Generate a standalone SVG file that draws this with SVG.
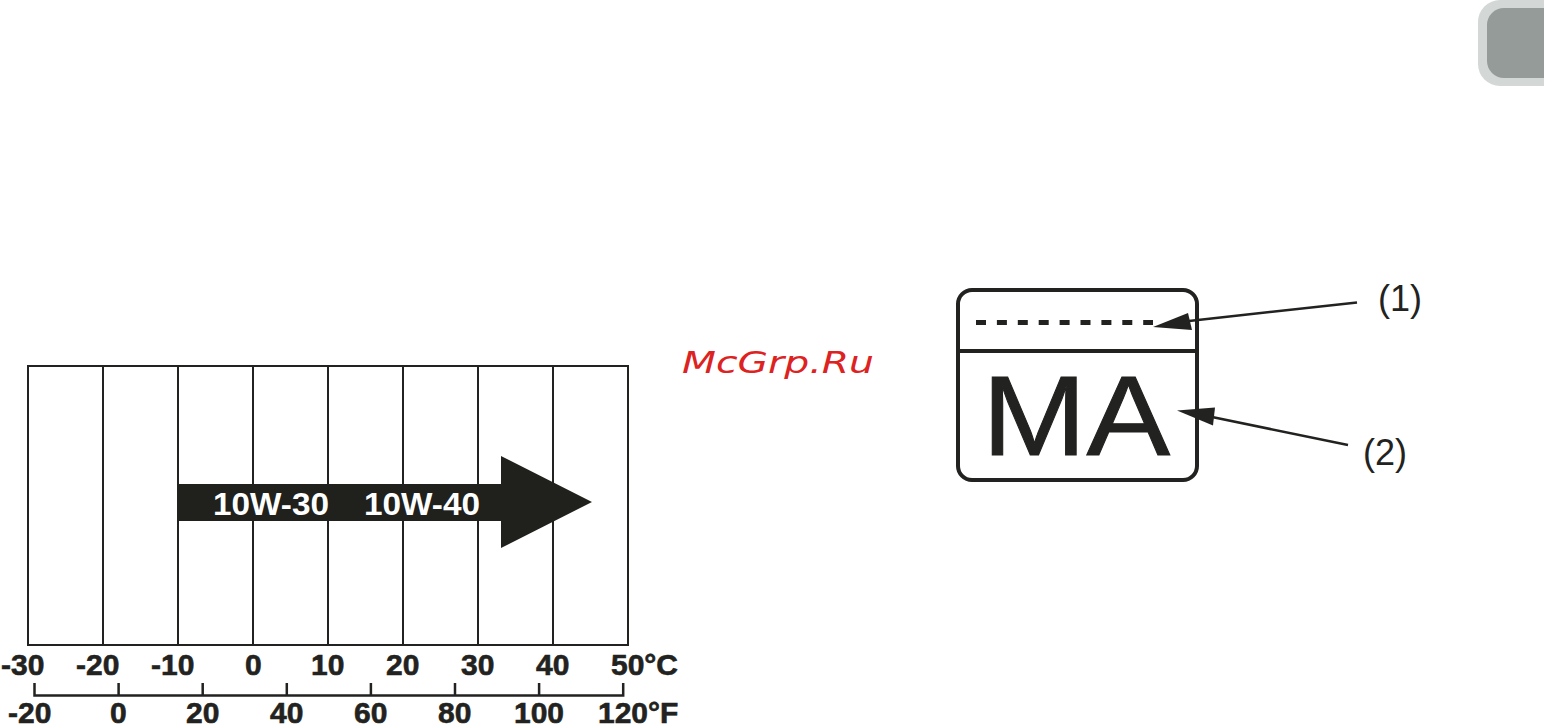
<svg xmlns="http://www.w3.org/2000/svg" width="1544" height="726" viewBox="0 0 1544 726">
  <style>
    .ax { font-family: "Liberation Sans", Arial, sans-serif; font-weight: bold; font-size: 30px; fill: #222220; stroke: #222220; stroke-width: 0.6px; }
    .grid { stroke: #222220; stroke-width: 2; fill: none; }
    .lab { font-family: "Liberation Sans", Arial, sans-serif; font-size: 36px; fill: #222220; }
    .lead { stroke: #222220; stroke-width: 2.5; fill: none; }
    .head { fill: #222220; }
  </style>
  <rect width="1544" height="726" fill="#ffffff"/>

  <!-- corner tab -->
  <g id="tab">
    <rect x="1478" y="0" width="100" height="86" rx="22" fill="#d3d7d6"/>
    <rect x="1487" y="8" width="90" height="70" rx="17" fill="#949b99"/>
  </g>

  <!-- temperature chart -->
  <g id="chart">
    <rect class="grid" x="28" y="366" width="600" height="279"/>
    <path class="grid" d="M103 366V645M178 366V645M253 366V645M328 366V645M403 366V645M478 366V645M553 366V645"/>
  </g>

  <g id="oil-arrow">
    <polygon points="178,484 501,484 501,456 592,502 501,548 501,521 178,521" fill="#20201c"/>
    <text x="213" y="515" font-family="Liberation Sans, Arial, sans-serif" font-weight="bold" font-size="32" fill="#ffffff" textLength="116" lengthAdjust="spacingAndGlyphs">10W-30</text>
    <text x="364" y="515" font-family="Liberation Sans, Arial, sans-serif" font-weight="bold" font-size="32" fill="#ffffff" textLength="116" lengthAdjust="spacingAndGlyphs">10W-40</text>
  </g>

  <g id="celsius-scale">
    <text class="ax" x="1" y="675">-30</text>
    <text class="ax" x="76" y="675">-20</text>
    <text class="ax" x="151" y="675">-10</text>
    <text class="ax" x="245" y="675">0</text>
    <text class="ax" x="311" y="675">10</text>
    <text class="ax" x="386" y="675">20</text>
    <text class="ax" x="461" y="675">30</text>
    <text class="ax" x="536" y="675">40</text>
    <text class="ax" x="611" y="675">50°C</text>
  </g>

  <g id="fahrenheit-scale">
    <path d="M34.5 683V695.5H623.2V683M118.6 683V695M202.7 683V695M286.8 683V695M370.9 683V695M455 683V695M539.1 683V695" stroke="#222220" stroke-width="2.5" fill="none"/>
    <text class="ax" x="8" y="723">-20</text>
    <text class="ax" x="110" y="723">0</text>
    <text class="ax" x="186" y="723">20</text>
    <text class="ax" x="270" y="723">40</text>
    <text class="ax" x="354" y="723">60</text>
    <text class="ax" x="438" y="723">80</text>
    <text class="ax" x="514" y="723">100</text>
    <text class="ax" x="598" y="723">120°F</text>
  </g>

  <!-- watermark -->
  <text id="watermark" x="682" y="373" font-family="DejaVu Sans, sans-serif" font-style="italic" font-size="31" fill="#dd2222" textLength="192" lengthAdjust="spacingAndGlyphs">McGrp.Ru</text>

  <!-- MA label -->
  <g id="label-box">
    <rect x="958" y="290" width="239" height="190" rx="14" fill="none" stroke="#222220" stroke-width="4"/>
    <line x1="958" y1="351" x2="1197" y2="351" stroke="#222220" stroke-width="4"/>
    <line x1="976" y1="322.5" x2="1153" y2="322.5" stroke="#222220" stroke-width="5" stroke-dasharray="10 10.9"/>
    <text x="982" y="455" font-family="Liberation Sans, Arial, sans-serif" font-size="114" fill="#222220" stroke="#222220" stroke-width="1" textLength="188" lengthAdjust="spacingAndGlyphs">MA</text>
  </g>

  <g id="connectors">
    <line class="lead" x1="1189" y1="321" x2="1357" y2="302.5"/>
    <polygon class="head" points="1153,327 1188,313 1192,330"/>
    <line class="lead" x1="1212" y1="417" x2="1348" y2="445"/>
    <polygon class="head" points="1177,410.5 1215,407.5 1213,425.5"/>
  </g>

  <g id="callout-1">
    <text class="lab" x="1378" y="311">(1)</text>
  </g>
  <g id="callout-2">
    <text class="lab" x="1363" y="465">(2)</text>
  </g>
</svg>
